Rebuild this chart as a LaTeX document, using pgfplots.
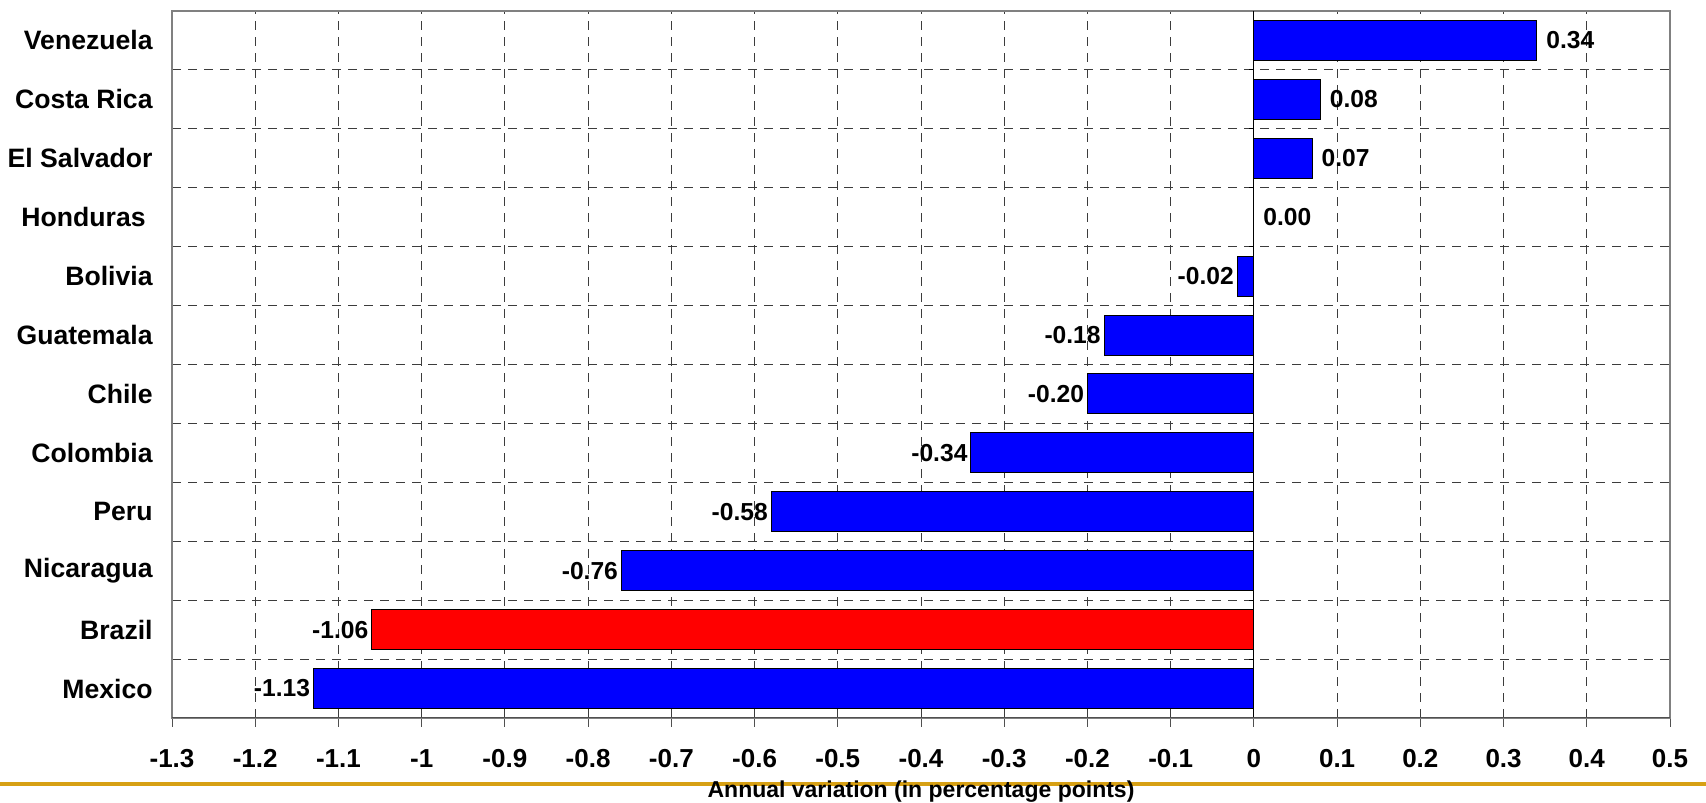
\documentclass[border=0pt]{standalone}
\usepackage{fontspec}
\setmainfont{Liberation Sans}
\usepackage{pgfplots}
\pgfplotsset{compat=1.18}

\definecolor{barblue}{RGB}{0,0,255}
\definecolor{barred}{RGB}{255,0,0}
\definecolor{rulegold}{RGB}{215,160,20}
\definecolor{gridgray}{RGB}{60,60,60}
\definecolor{framegray}{RGB}{128,128,128}
\definecolor{axisgray}{RGB}{80,80,80}

\newcommand{\catfont}{\bfseries\fontsize{13.3bp}{14bp}\selectfont}
\newcommand{\tickfont}{\bfseries\fontsize{13bp}{14bp}\selectfont}
\newcommand{\valfont}{\bfseries\fontsize{12.3bp}{13bp}\selectfont}
\newcommand{\titlefont}{\bfseries\fontsize{11.5bp}{12bp}\selectfont}

\begin{document}
\begin{tikzpicture}
\useasboundingbox (0,0) rectangle (853bp,401.5bp);
% rule under the chart
\fill[rulegold] (0,8.5bp) rectangle (853bp,10.5bp);
\begin{axis}[
  at={(86bp,42.5bp)}, anchor=south west,
  scale only axis, width=749bp, height=353.5bp,
  xmin=-1.3, xmax=0.5, ymin=-0.5, ymax=11.5,
  xbar, bar width=20bp, bar shift=0pt,
  axis line style={framegray, line width=0.6bp},
  xtick={-1.3,-1.2,-1.1,-1,-0.9,-0.8,-0.7,-0.6,-0.5,-0.4,-0.3,-0.2,-0.1,0,0.1,0.2,0.3,0.4,0.5},
  xticklabels={-1.3,-1.2,-1.1,-1,-0.9,-0.8,-0.7,-0.6,-0.5,-0.4,-0.3,-0.2,-0.1,0,0.1,0.2,0.3,0.4,0.5},
  xtick pos=bottom, xtick align=outside, major tick length=4.5bp,
  xtick style={axisgray, line width=0.5bp},
  xticklabel style={font=\tickfont, anchor=base, inner sep=0pt, yshift=-20bp},
  ytick={0,...,11},
  yticklabels={Mexico,Brazil,Nicaragua,Peru,Colombia,Chile,Guatemala,Bolivia,Honduras\hspace*{3.5bp},El Salvador,Costa Rica,Venezuela},
  ytick style={draw=none},
  ytick align=inside,
  yticklabel style={font=\catfont, anchor=east, inner sep=0pt, xshift=-9.5bp},
  minor ytick={0.5,1.5,...,10.5},
  minor y tick style={draw=none},
  xmajorgrids=true, yminorgrids=true,
  major x grid style={gridgray, line width=0.5bp, dash pattern=on 4.5bp off 3.5bp},
  minor y grid style={gridgray, line width=0.5bp, dash pattern=on 4.5bp off 3.5bp},
  xlabel={Annual variation (in percentage points)},
  xlabel style={at={(axis description cs:0.5,0)}, anchor=base, inner sep=0pt, yshift=-39.5bp, font=\titlefont},
  point meta=explicit symbolic,
  nodes near coords,
]
% gains (labels to the right of the bar end)
\addplot[fill=barblue, draw=black, line width=0.5bp,
  every node near coord/.append style={anchor=west, inner sep=0pt, xshift=4.5bp, font=\valfont, text=black}]
  coordinates {(0.34,11) [0.34] (0.08,10) [0.08] (0.07,9) [0.07] (0.00,8) [0.00]};
% losses (labels to the left of the bar end)
\addplot[fill=barblue, draw=black, line width=0.5bp,
  every node near coord/.append style={anchor=east, inner sep=0pt, xshift=-1.5bp, font=\valfont, text=black}]
  coordinates {(-0.02,7) [-0.02] (-0.18,6) [-0.18] (-0.20,5) [-0.20] (-0.34,4) [-0.34]
               (-0.58,3) [-0.58] (-0.76,2) [-0.76] (-1.13,0) [-1.13]};
% Brazil highlighted
\addplot[fill=barred, draw=black, line width=0.5bp,
  every node near coord/.append style={anchor=east, inner sep=0pt, xshift=-1.5bp, font=\valfont, text=black}]
  coordinates {(-1.06,1) [-1.06]};
% category axis at zero and heavy value axis
\draw[black, line width=0.5bp] (axis cs:0,-0.5) -- (axis cs:0,11.5);
\pgfplotsinvokeforeach{0.5,1.5,...,10.5}{
  \draw[black, line width=0.5bp] (axis cs:0,#1) -- ([xshift=-2.5bp]axis cs:0,#1);
}
\draw[axisgray, line width=1.5bp] (axis cs:-1.3,-0.5) -- (axis cs:0.5,-0.5);
\end{axis}
\end{tikzpicture}
\end{document}
